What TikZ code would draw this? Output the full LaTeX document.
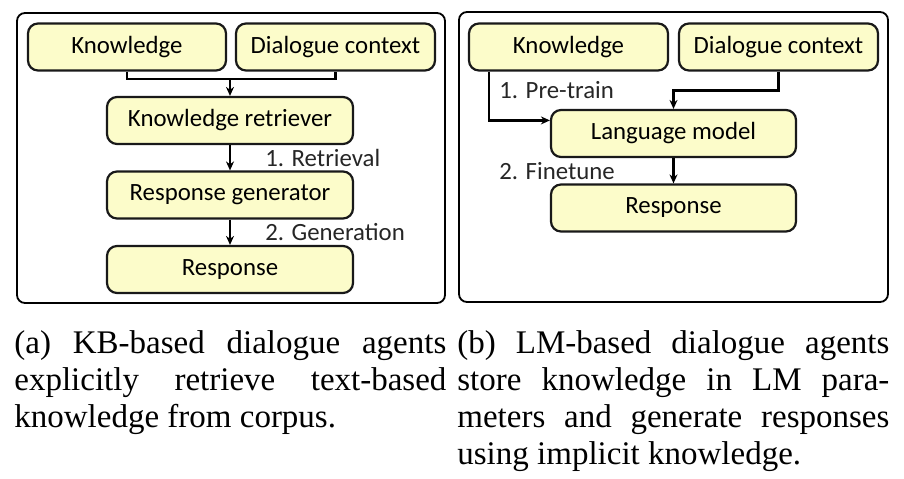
\documentclass[tikz,border=0pt]{standalone}
\usepackage{fontspec}
\setmainfont{Liberation Serif}
\newfontfamily\boxfont{Carlito}
\usetikzlibrary{calc,arrows.meta}
\definecolor{myyellow}{RGB}{252,252,202}

\begin{document}
\begin{tikzpicture}[
  x=0.5pt, y=-0.5pt,
  mybox/.style={
    draw=black!90,
    line width=1.1pt,
    rounded corners=5pt,
    fill=myyellow,
    minimum width=#1,
    minimum height=23.5pt,
    inner sep=0pt,
    font=\boxfont\fontsize{12.4}{14}\selectfont
    },
  myframe/.style={draw, line width=0.9pt, rounded corners=4pt},
  myline/.style={draw, line width=1.2pt},
  myarrow/.style={myline, -{Stealth[length=4.5pt,width=4pt]}},
  mylabel/.style={
    anchor=west,
    inner sep=0pt,
    text=black!85,
    font=\boxfont\fontsize{12.4}{14}\selectfont
    },
  mycaption/.style={
    anchor=base west,
    inner sep=0pt,
    text width=216pt,
    align=justify,
    font=\fontsize{16.5}{18.6}\selectfont,
    execute at begin node={\hyphenpenalty=10000 \exhyphenpenalty=10000 }
    }
]
\useasboundingbox (0,0) rectangle (904,478);

% (a) KB-based
\draw[myframe] (17,13) rectangle (445,303);
\node [mybox=99pt] (knowa) at (127,47) {Knowledge};
\node [mybox=99.5pt] (dialoga) at (335.5,47) {Dialogue context};
\node [mybox=123pt] (retr) at (230,120.5) {Knowledge retriever};
\node [mybox=123pt] (gen) at (230,195) {Response generator};
\node [mybox=123pt] (respa) at (230,269.5) {Response};
\coordinate (mrg) at (230,79);
\draw[myline] (knowa.south) |- (mrg) -| (dialoga.south);
\draw[myarrow] (mrg) -- (retr.north);
\draw[myarrow] (retr) -- (gen);
\draw[myarrow] (gen) -- (respa);
\node [mylabel] (lretr) at (265,158) {1. Retrieval};
\node [mylabel] (lgen) at (265,232) {2. Generation};

% (b) LM-based
\draw[myframe] (459,12) rectangle (888,302);
\node [mybox=99.5pt] (knowb) at (568.5,47) {Knowledge};
\node [mybox=99.5pt] (dialogb) at (778.5,47) {Dialogue context};
\node [mybox=122.5pt] (lm) at (673.5,133.5) {Language model};
\node [mybox=122.5pt] (respb) at (673.5,208) {Response};
\coordinate (kout) at ($(knowb.south west)!0.106!(knowb.south east)$);
\coordinate (lmin) at ($(lm.north west)!0.234!(lm.south west)$);
\draw[myarrow] (kout) |- (lmin);
\draw[myarrow] (dialogb.south) -- ++(0,19) -| (lm.north);
\draw[myarrow] (lm) -- (respb);
\node [mylabel] (lpre) at (499,90) {1. Pre-train};
\node [mylabel] (lfine) at (499,171) {2. Finetune};

% captions
\node [mycaption] (capa) at (14,353) {(a) KB-based dialogue agents\linebreak explicitly retrieve text-based\linebreak knowledge from corpus.};
\node [mycaption] (capb) at (457,353) {(b) LM-based dialogue agents\linebreak store knowledge in LM para-\linebreak meters and generate responses\linebreak using implicit knowledge.};
\end{tikzpicture}
\end{document}
